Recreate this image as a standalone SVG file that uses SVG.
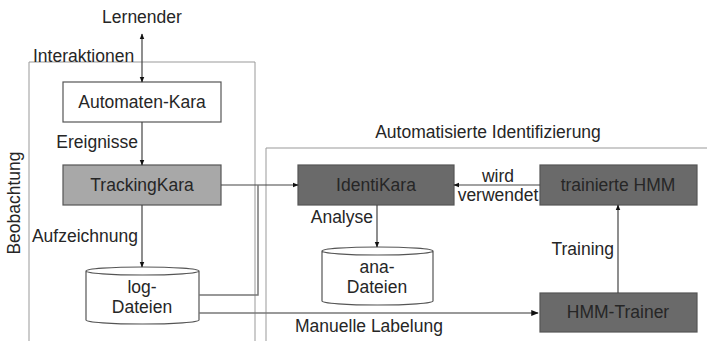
<svg xmlns="http://www.w3.org/2000/svg" width="707" height="341" viewBox="0 0 707 341">
<defs>
<marker id="ah" viewBox="0 0 10 10" refX="9" refY="5" markerWidth="5" markerHeight="5" orient="auto-start-reverse">
<path d="M0,1 L10,5 L0,9 z" fill="#111"/>
</marker>
<style>
text{font-family:"Liberation Sans",Arial,sans-serif;font-size:17.5px;fill:#262626}
.c{text-anchor:middle}
.e{text-anchor:end}
.cont{fill:none;stroke:#999;stroke-width:1}
.box{stroke:#555;stroke-width:1.2}
.w{fill:#fff}
.l{fill:#a8a8a8}
.d{fill:#6a6a6a}
.ln{fill:none;stroke:#444;stroke-width:1.2}
.conn{fill:none;stroke:#777;stroke-width:1.5}
</style>
</defs>
<rect width="707" height="341" fill="#fff"/>
<g id="containers">
<path class="cont" d="M29,345 V62 H255 V345"/>
<path class="cont" d="M266,345 V148 H710"/>
<text x="33" y="62">Interaktionen</text>
<text class="c" x="488" y="138">Automatisierte Identifizierung</text>
<text class="c" transform="translate(20,203) rotate(-90)">Beobachtung</text>
</g>
<g id="lernender"><text class="c" x="142" y="23">Lernender</text></g>
<g id="automaten-kara"><rect class="box w" x="63" y="82" width="158" height="40"/><text class="c" x="142" y="108">Automaten-Kara</text></g>
<g id="trackingkara"><rect class="box l" x="63" y="165" width="158" height="40"/><text class="c" x="142" y="191">TrackingKara</text></g>
<g id="log-dateien">
<path class="box w" d="M86,271 V320 A56.5,4 0 0 0 199,320 V271 A56.5,4 0 0 0 86,271 A56.5,4 0 0 0 199,271"/>
<text class="c" x="142" y="293">log-</text><text class="c" x="142" y="313">Dateien</text>
</g>
<g id="identikara"><rect class="box d" x="298" y="165" width="156" height="40"/><text class="c" x="376" y="191">IdentiKara</text></g>
<g id="trainierte-hmm"><rect class="box d" x="540" y="165" width="157" height="40"/><text class="c" x="618" y="191">trainierte HMM</text></g>
<g id="ana-dateien">
<path class="box w" d="M322,251 V301 A55.5,4 0 0 0 433,301 V251 A55.5,4 0 0 0 322,251 A55.5,4 0 0 0 433,251"/>
<text class="c" x="377" y="273">ana-</text><text class="c" x="377" y="293">Dateien</text>
</g>
<g id="hmm-trainer"><rect class="box d" x="540" y="293" width="157" height="39"/><text class="c" x="618" y="318">HMM-Trainer</text></g>
<g id="connectors">
<line class="ln" x1="142" y1="34" x2="142" y2="82" marker-start="url(#ah)" marker-end="url(#ah)"/>
<line class="ln" x1="142" y1="122" x2="142" y2="165" marker-end="url(#ah)"/>
<line class="ln" x1="142" y1="205" x2="142" y2="267" marker-end="url(#ah)"/>
<line class="ln" x1="221" y1="185" x2="298" y2="185" marker-end="url(#ah)"/>
<polyline class="conn" points="199,295 258,295 258,185"/>
<line class="conn" x1="199" y1="313" x2="538" y2="313" marker-end="url(#ah)"/>
<line class="ln" x1="540" y1="185" x2="454" y2="185" marker-end="url(#ah)"/>
<line class="ln" x1="377" y1="205" x2="377" y2="247" marker-end="url(#ah)"/>
<line class="ln" x1="618" y1="293" x2="618" y2="205" marker-end="url(#ah)"/>
<text class="e" x="138" y="148">Ereignisse</text>
<text class="e" x="138" y="242">Aufzeichnung</text>
<text class="c" x="498" y="182">wird</text>
<text class="c" x="498" y="201">verwendet</text>
<text class="e" x="373" y="223">Analyse</text>
<text class="e" x="614" y="255">Training</text>
<text x="295" y="332">Manuelle Labelung</text>
</g>
</svg>
